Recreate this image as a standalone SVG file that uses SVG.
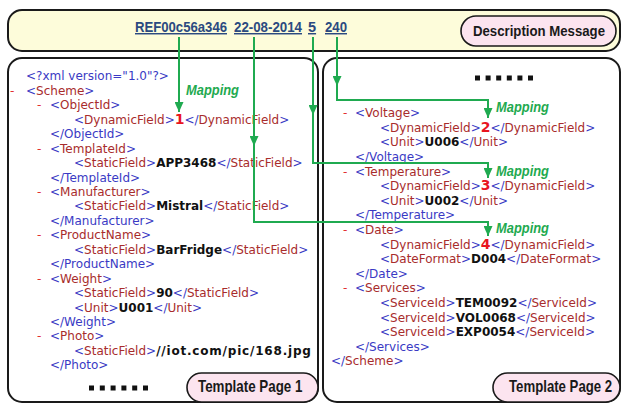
<svg xmlns="http://www.w3.org/2000/svg" width="623" height="404" viewBox="0 0 623 404">
<style>
.box{fill:#fff;stroke:#1a1a1a;stroke-width:2}
.pill{fill:#fce4ef;stroke:#1a1a1a;stroke-width:1.6}
.lbl{font-family:"Liberation Sans",Arial,sans-serif;font-weight:bold;font-size:15px;fill:#1a1a1a}
.big{font-size:16.5px}
.lnk{font-family:"Liberation Sans",Arial,sans-serif;font-weight:bold;font-size:14.5px;fill:#2b4a80;text-decoration:underline}
.x{font-family:"DejaVu Sans",Verdana,sans-serif;font-size:12px;fill:#3a3ac4}
.b{fill:#3a3ac4}
.r{fill:#a82c2c}
.d{fill:#e23030}
.v{fill:#111;font-weight:bold}
.n{fill:#e8141e;font-weight:bold;font-size:14px}
.map{font-family:"Liberation Sans",Arial,sans-serif;font-weight:bold;font-style:italic;font-size:14px;fill:#1faa50}
.con{fill:none;stroke:#1faa50;stroke-width:2}
.dot{fill:#111}
</style>
<defs>
<marker id="ah" markerUnits="userSpaceOnUse" markerWidth="10" markerHeight="9" refX="10" refY="4.5" orient="auto">
<path d="M0,0 L10,4.5 L0,9 z" fill="#1faa50"/>
</marker>
</defs>

<g id="description-message">
<rect x="8" y="10" width="612" height="41" rx="14" fill="#fdfcda" stroke="#1a1a1a" stroke-width="2"/>
<text class="lnk" x="135" y="32" textLength="92" lengthAdjust="spacingAndGlyphs">REF00c56a346</text>
<text class="lnk" x="234" y="32" textLength="68" lengthAdjust="spacingAndGlyphs">22-08-2014</text>
<text class="lnk" x="308" y="32">5</text>
<text class="lnk" x="325" y="32" textLength="22" lengthAdjust="spacingAndGlyphs">240</text>
<rect class="pill" x="461" y="16" width="155" height="30" rx="15"/>
<text class="lbl" x="473" y="36" textLength="132" lengthAdjust="spacingAndGlyphs">Description Message</text>
</g>

<g id="template-page-1">
<rect class="box" x="8" y="58" width="310" height="344" rx="14"/>
<text class="x" x="26" y="80">&lt;?xml version="1.0"?&gt;</text>
<text class="x" x="10" y="95"><tspan class="d">-</tspan></text>
<text class="x" x="26" y="95">&lt;<tspan class="r">Scheme</tspan>&gt;</text>
<text class="x" x="37" y="109"><tspan class="d">-</tspan></text>
<text class="x" x="50" y="109">&lt;<tspan class="r">ObjectId</tspan>&gt;</text>
<text class="x" x="74" y="124">&lt;<tspan class="r">DynamicField</tspan>&gt;<tspan class="n">1</tspan>&lt;/<tspan class="r">DynamicField</tspan>&gt;</text>
<text class="x" x="50" y="138">&lt;/ObjectId&gt;</text>
<text class="x" x="37" y="153"><tspan class="d">-</tspan></text>
<text class="x" x="50" y="153">&lt;<tspan class="r">TemplateId</tspan>&gt;</text>
<text class="x" x="74" y="167">&lt;<tspan class="r">StaticField</tspan>&gt;<tspan class="v">APP3468</tspan>&lt;/<tspan class="r">StaticField</tspan>&gt;</text>
<text class="x" x="50" y="182">&lt;/TemplateId&gt;</text>
<text class="x" x="37" y="196"><tspan class="d">-</tspan></text>
<text class="x" x="50" y="196">&lt;<tspan class="r">Manufacturer</tspan>&gt;</text>
<text class="x" x="74" y="210">&lt;<tspan class="r">StaticField</tspan>&gt;<tspan class="v">Mistral</tspan>&lt;/<tspan class="r">StaticField</tspan>&gt;</text>
<text class="x" x="50" y="225">&lt;/Manufacturer&gt;</text>
<text class="x" x="37" y="239"><tspan class="d">-</tspan></text>
<text class="x" x="50" y="239">&lt;<tspan class="r">ProductName</tspan>&gt;</text>
<text class="x" x="74" y="254">&lt;<tspan class="r">StaticField</tspan>&gt;<tspan class="v">BarFridge</tspan>&lt;/<tspan class="r">StaticField</tspan>&gt;</text>
<text class="x" x="50" y="268">&lt;/ProductName&gt;</text>
<text class="x" x="37" y="283"><tspan class="d">-</tspan></text>
<text class="x" x="50" y="283">&lt;<tspan class="r">Weight</tspan>&gt;</text>
<text class="x" x="74" y="297">&lt;<tspan class="r">StaticField</tspan>&gt;<tspan class="v">90</tspan>&lt;/<tspan class="r">StaticField</tspan>&gt;</text>
<text class="x" x="74" y="312">&lt;<tspan class="r">Unit</tspan>&gt;<tspan class="v">U001</tspan>&lt;/<tspan class="r">Unit</tspan>&gt;</text>
<text class="x" x="50" y="326">&lt;/Weight&gt;</text>
<text class="x" x="37" y="340"><tspan class="d">-</tspan></text>
<text class="x" x="50" y="340">&lt;<tspan class="r">Photo</tspan>&gt;</text>
<text class="x" x="74" y="355">&lt;<tspan class="r">StaticField</tspan>&gt;<tspan class="v" letter-spacing="0.8">//iot.com/pic/168.jpg</tspan></text>
<text class="x" x="50" y="369">&lt;/Photo&gt;</text>
<rect class="dot" x="89" y="385.5" width="5" height="5"/>
<rect class="dot" x="99.8" y="385.5" width="5" height="5"/>
<rect class="dot" x="110.6" y="385.5" width="5" height="5"/>
<rect class="dot" x="121.4" y="385.5" width="5" height="5"/>
<rect class="dot" x="132.2" y="385.5" width="5" height="5"/>
<rect class="dot" x="143" y="385.5" width="5" height="5"/>
<rect class="pill" x="187" y="373" width="131" height="29" rx="14.5"/>
<text class="lbl big" transform="translate(198,392) scale(0.81,1)">Template Page 1</text>
</g>

<g id="template-page-2">
<rect class="box" x="323" y="58" width="297" height="344" rx="14"/>
<rect class="dot" x="475" y="75.5" width="5" height="5"/>
<rect class="dot" x="485.6" y="75.5" width="5" height="5"/>
<rect class="dot" x="496.2" y="75.5" width="5" height="5"/>
<rect class="dot" x="506.8" y="75.5" width="5" height="5"/>
<rect class="dot" x="517.4" y="75.5" width="5" height="5"/>
<rect class="dot" x="528" y="75.5" width="5" height="5"/>
<text class="x" x="343" y="117"><tspan class="d">-</tspan></text>
<text class="x" x="355" y="117">&lt;<tspan class="r">Voltage</tspan>&gt;</text>
<text class="x" x="380" y="132">&lt;<tspan class="r">DynamicField</tspan>&gt;<tspan class="n">2</tspan>&lt;/<tspan class="r">DynamicField</tspan>&gt;</text>
<text class="x" x="380" y="146">&lt;<tspan class="r">Unit</tspan>&gt;<tspan class="v">U006</tspan>&lt;/<tspan class="r">Unit</tspan>&gt;</text>
<text class="x" x="355" y="161">&lt;/Voltage&gt;</text>
<text class="x" x="343" y="176"><tspan class="d">-</tspan></text>
<text class="x" x="355" y="176">&lt;<tspan class="r">Temperature</tspan>&gt;</text>
<text class="x" x="380" y="190">&lt;<tspan class="r">DynamicField</tspan>&gt;<tspan class="n">3</tspan>&lt;/<tspan class="r">DynamicField</tspan>&gt;</text>
<text class="x" x="380" y="205">&lt;<tspan class="r">Unit</tspan>&gt;<tspan class="v">U002</tspan>&lt;/<tspan class="r">Unit</tspan>&gt;</text>
<text class="x" x="355" y="219">&lt;/Temperature&gt;</text>
<text class="x" x="343" y="234"><tspan class="d">-</tspan></text>
<text class="x" x="355" y="234">&lt;<tspan class="r">Date</tspan>&gt;</text>
<text class="x" x="380" y="249">&lt;<tspan class="r">DynamicField</tspan>&gt;<tspan class="n">4</tspan>&lt;/<tspan class="r">DynamicField</tspan>&gt;</text>
<text class="x" x="380" y="263">&lt;<tspan class="r">DateFormat</tspan>&gt;<tspan class="v">D004</tspan>&lt;/<tspan class="r">DateFormat</tspan>&gt;</text>
<text class="x" x="355" y="278">&lt;/Date&gt;</text>
<text class="x" x="343" y="292"><tspan class="d">-</tspan></text>
<text class="x" x="355" y="292">&lt;<tspan class="r">Services</tspan>&gt;</text>
<text class="x" x="380" y="307">&lt;<tspan class="r">ServiceId</tspan>&gt;<tspan class="v">TEM0092</tspan>&lt;/<tspan class="r">ServiceId</tspan>&gt;</text>
<text class="x" x="380" y="322">&lt;<tspan class="r">ServiceId</tspan>&gt;<tspan class="v">VOL0068</tspan>&lt;/<tspan class="r">ServiceId</tspan>&gt;</text>
<text class="x" x="380" y="336">&lt;<tspan class="r">ServiceId</tspan>&gt;<tspan class="v">EXP0054</tspan>&lt;/<tspan class="r">ServiceId</tspan>&gt;</text>
<text class="x" x="355" y="351">&lt;/Services&gt;</text>
<text class="x" x="331" y="365">&lt;/<tspan class="r">Scheme</tspan>&gt;</text>
<rect class="pill" x="493" y="373" width="127" height="29" rx="14.5"/>
<text class="lbl big" transform="translate(509,392) scale(0.8,1)">Template Page 2</text>
</g>

<g id="connectors">
<path class="con" d="M179,37 V112" marker-end="url(#ah)"/>
<path class="con" d="M254,37 V146" marker-end="url(#ah)"/>
<path class="con" d="M254,145 V222 H488 V236" marker-end="url(#ah)"/>
<path class="con" d="M313,37 V115" marker-end="url(#ah)"/>
<path class="con" d="M313,114 V163 H488 V178" marker-end="url(#ah)"/>
<path class="con" d="M337,37 V86" marker-end="url(#ah)"/>
<path class="con" d="M337,85 V100 H488 V118" marker-end="url(#ah)"/>
<text class="map" x="186" y="95" textLength="53" lengthAdjust="spacingAndGlyphs">Mapping</text>
<text class="map" x="496" y="112" textLength="53" lengthAdjust="spacingAndGlyphs">Mapping</text>
<text class="map" x="496" y="176" textLength="53" lengthAdjust="spacingAndGlyphs">Mapping</text>
<text class="map" x="496" y="233" textLength="53" lengthAdjust="spacingAndGlyphs">Mapping</text>
</g>
</svg>
